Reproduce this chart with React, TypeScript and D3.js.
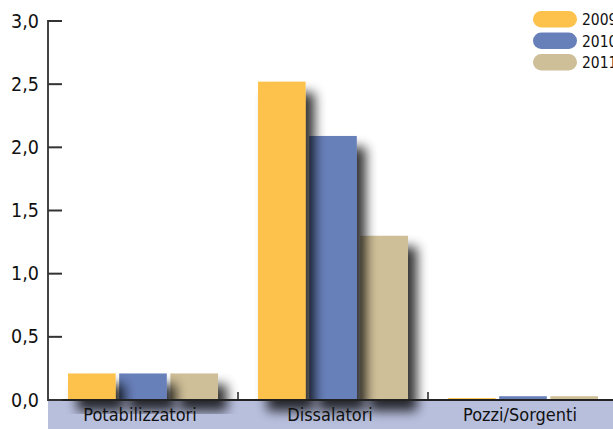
import React from "react";
import * as d3 from "d3";

const categories = ["Potabilizzatori", "Dissalatori", "Pozzi/Sorgenti"];
const years = ["2009", "2010", "2011"];
const v2009 = [0.21, 2.52, 0.015];
const v2010 = [0.21, 2.09, 0.03];
const v2011 = [0.21, 1.3, 0.03];
const yTicks = [0, 0.5, 1, 1.5, 2, 2.5, 3];
const colors = ["#fcc24c", "#6880ba", "#cfbf98"];

const W = 613, H = 429;
const left = 48, right = 618, top = 21, bottom = 400;
const font = "'Liberation Sans Narrow', 'DejaVu Sans Condensed', sans-serif";

export default function App() {
  const series = [v2009, v2010, v2011];
  const x0 = d3.scaleBand<string>().domain(categories).range([left, right]).paddingInner(0).paddingOuter(0);
  const x1 = d3.scaleBand<string>().domain(years).range([20, 170]).paddingInner(0.07);
  const y = d3.scaleLinear().domain([0, 3]).range([bottom, top]);
  const fmt = (d: number) => d3.format(".1f")(d).replace(".", ",");

  return (
    <svg width={W} height={H} style={{ position: "absolute", left: 0, top: 0, background: "#fff" }}>
      <defs>
        <filter id="sh" x="-50%" y="-50%" width="200%" height="200%">
          <feGaussianBlur in="SourceAlpha" stdDeviation="6" />
          <feOffset dx="9" dy="11" result="b" />
          <feComponentTransfer>
            <feFuncA type="linear" slope="0.8" />
          </feComponentTransfer>
          <feMerge>
            <feMergeNode />
            <feMergeNode in="SourceGraphic" />
          </feMerge>
        </filter>
      </defs>
      <rect x={left} y={bottom} width={W - left} height={H - bottom} fill="#b8bfdd" />
      {categories.map((c, ci) => (
        <g key={c}>
          {[2, 1, 0].map((si) => {
            const v = series[si][ci];
            const xx = (x0(c) as number) + (x1(years[si]) as number);
            return (
              <rect key={si} x={xx} y={y(v)} width={x1.bandwidth()} height={bottom - y(v)} fill={colors[si]} filter="url(#sh)" />
            );
          })}
        </g>
      ))}
      {categories.map((c) => (
        <text key={c} x={(x0(c) as number) + x0.bandwidth() / 2 - 3} y={421} textAnchor="middle" fontFamily={font} fontSize={18} fill="#111">
          {c}
        </text>
      ))}
      <line x1={left} x2={W} y1={bottom} y2={bottom} stroke="#222" strokeWidth={2} />
      <line x1={left} x2={left} y1={top - 1} y2={bottom + 1} stroke="#444" strokeWidth={2} />
      {yTicks.map((t) => (
        <g key={t}>
          <line x1={left} x2={left + 14} y1={y(t)} y2={y(t)} stroke="#333" strokeWidth={2} />
          <text x={39} y={y(t) + 6.5} textAnchor="end" fontFamily={font} fontSize={19.5} fill="#111">
            {fmt(t)}
          </text>
        </g>
      ))}
      {categories.slice(1).map((c) => (
        <line key={c} x1={x0(c)} x2={x0(c)} y1={bottom - 8} y2={bottom} stroke="#222" strokeWidth={1.5} />
      ))}
      {years.map((yr, i) => (
        <g key={yr}>
          <rect x={533} y={11 + i * 21.5} width={44} height={16.5} rx={8.25} fill={colors[i]} />
          <text x={582} y={25 + i * 21.5} fontFamily={font} fontSize={15.5} fill="#111">
            {yr}
          </text>
        </g>
      ))}
    </svg>
  );
}
